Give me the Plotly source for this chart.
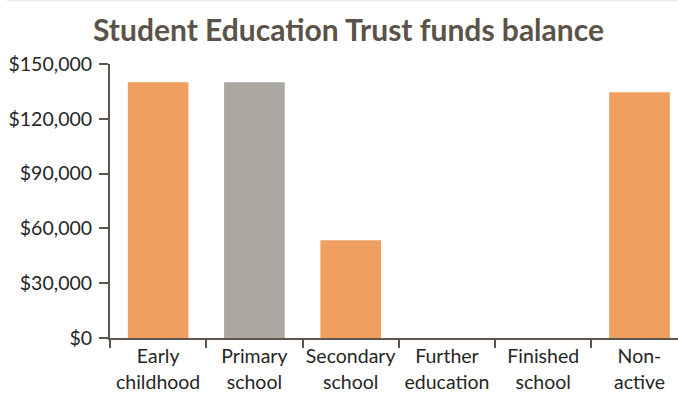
import plotly.graph_objects as go

categories = ["Early<br>childhood", "Primary<br>school", "Secondary<br>school",
              "Further<br>education", "Finished<br>school", "Non-<br>active"]
values = [140000, 140000, 53500, 0, 0, 134500]
colors = ["#EFA060", "#ABA8A1", "#EFA060", "#EFA060", "#EFA060", "#EFA060"]
y_ticks = [0, 30000, 60000, 90000, 120000, 150000]
y_labels = ["$0", "$30,000", "$60,000", "$90,000", "$120,000", "$150,000"]

axis_color = "#5E564D"
text_color = "#262626"

fig = go.Figure(go.Bar(
    x=categories, y=values,
    marker=dict(color=colors, line=dict(width=0)),
    width=0.63,
))

fig.update_layout(
    width=678, height=408,
    margin=dict(l=110, r=0, t=64, b=70),
    paper_bgcolor="white", plot_bgcolor="white",
    showlegend=False,
    title=dict(text="<b>Student Education Trust funds balance</b>",
               x=0.514, xanchor="center", y=0.925, yanchor="middle",
               font=dict(family="Lato", size=30, color="#5B5249")),
    font=dict(family="Lato", size=19.5, color=text_color),
)
fig.update_xaxes(
    range=[-0.5, 5.4], showline=True, linecolor=axis_color, linewidth=2,
    ticks="outside", tickson="boundaries", ticklen=8, tickcolor=axis_color, tickwidth=2,
    tickangle=0, automargin=False,
    showgrid=False, tickfont=dict(family="Lato", size=19.5, color=text_color),
)
fig.update_yaxes(
    range=[0, 150000], tickvals=y_ticks, ticktext=y_labels,
    showline=True, linecolor=axis_color, linewidth=2,
    ticks="outside", ticklen=9, tickcolor=axis_color, tickwidth=2,
    ticklabelstandoff=3, automargin=False,
    showgrid=False, zeroline=False,
    tickfont=dict(family="Lato", size=19.5, color=text_color),
)
# faint frame line at the top of the image
fig.add_shape(type="line", xref="paper", yref="paper", x0=-0.182, x1=1.0,
              y0=1.232, y1=1.232, line=dict(width=1.5, color="#EBEBEB"))
fig.write_html("out.html")
